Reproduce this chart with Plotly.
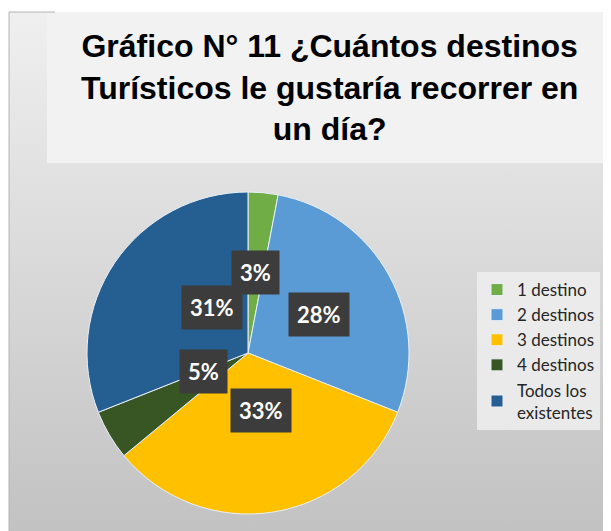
import math
import plotly.graph_objects as go

# Data
categorias = ['1 destino', '2 destinos', '3 destinos', '4 destinos', 'Todos los<br>existentes']
porcentajes = [3, 28, 33, 5, 31]
colores = ['#70ad47', '#5b9bd5', '#ffc000', '#375623', '#255e91']
titulo = 'Gráfico N° 11 ¿Cuántos destinos<br>Turísticos le gustaría recorrer en<br>un día?'

# the page body adds an 8px margin, so the figure is 8px smaller and we work in page pixels
OFF = 8
W, H = 611 - OFF, 531 - OFF


def fx(px):
    return (px - OFF) / W


def fy(py):
    return 1 - (py - OFF) / H


# pie placement (page pixels)
cx, cy, R = 248, 353, 161

fig = go.Figure()

# gradient background of the chart area
fig.add_trace(go.Scatter(
    x=[fx(9), 1, 1, fx(9), fx(9)], y=[0, 0, fy(12), fy(12), 0],
    mode='lines', line=dict(width=0), fill='toself',
    fillgradient=dict(type='vertical', start=0, stop=1,
                      colorscale=[[0, '#c2c2c2'], [1, '#f0f0f0']]),
    hoverinfo='skip', showlegend=False))

fig.add_trace(go.Pie(
    labels=categorias, values=porcentajes, sort=False, direction='clockwise',
    rotation=0, marker=dict(colors=colores, line=dict(color='#e8f0f8', width=1)),
    textinfo='none', hoverinfo='skip',
    domain=dict(x=[fx(cx - R), fx(cx + R)], y=[fy(cy + R), fy(cy - R)])))

# percentage labels in dark boxes, at half radius on each slice's mid angle
total = sum(porcentajes)
acc = 0
for v in porcentajes:
    mid = (acc + v / 2) / total * 2 * math.pi
    acc += v
    fig.add_annotation(x=fx(cx + 0.5 * R * math.sin(mid)), y=fy(cy - 0.5 * R * math.cos(mid)),
                       xref='paper', yref='paper',
                       text='<b>%d%%</b>' % round(v / total * 100), showarrow=False,
                       font=dict(family='Lato', size=22, color='white'),
                       bgcolor='#3c3c3c', borderpad=8)

fig.add_annotation(x=fx(329), y=fy(87), xref='paper', yref='paper', yanchor='middle',
                   text='<b>' + titulo + '</b>', showarrow=False,
                   font=dict(family='Liberation Sans', size=32, color='black'), align='center')

fig.update_layout(
    width=W, height=H, margin=dict(l=0, r=0, t=0, b=0),
    paper_bgcolor='white', plot_bgcolor='rgba(0,0,0,0)',
    xaxis=dict(range=[0, 1], domain=[0, 1], visible=False, fixedrange=True),
    yaxis=dict(range=[0, 1], domain=[0, 1], visible=False, fixedrange=True),
    shapes=[
        dict(type='rect', xref='paper', yref='paper', x0=fx(47), x1=1,
             y0=fy(163), y1=fy(12), fillcolor='#f2f2f2', line=dict(width=0), layer='above'),
        dict(type='line', xref='paper', yref='paper', x0=fx(9), x1=fx(9), y0=0, y1=fy(12),
             line=dict(color='#b4b4b4', width=1), layer='above'),
        dict(type='line', xref='paper', yref='paper', x0=fx(9), x1=fx(55), y0=fy(12), y1=fy(12),
             line=dict(color='#b4b4b4', width=1), layer='above'),
    ],
    legend=dict(x=fx(477), y=fy(272), xanchor='left', yanchor='top', itemwidth=30,
                bgcolor='rgba(238,238,238,0.85)', font=dict(family='Lato', size=17, color='#262626'),
                itemclick=False, itemdoubleclick=False),
    showlegend=True,
)

fig.write_html('out.html')
